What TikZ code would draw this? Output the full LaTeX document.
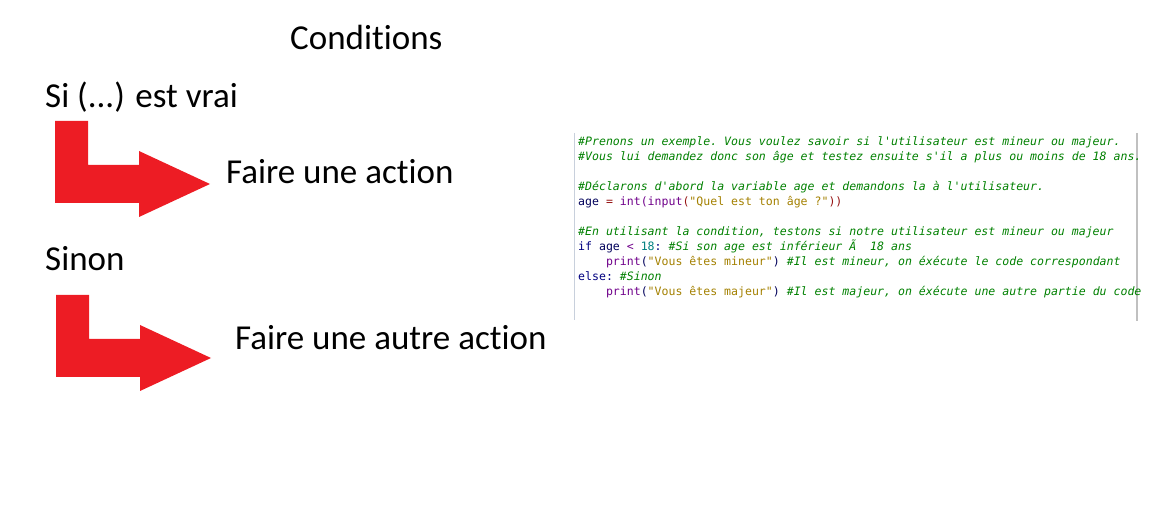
\documentclass[tikz,border=0pt]{standalone}
\usepackage{fontspec}
\setmainfont[Ligatures={NoCommon}]{Carlito}
\setmonofont[ItalicFont={DejaVu Sans Mono Oblique}]{DejaVu Sans Mono}
\definecolor{arrowred}{RGB}{237,28,36}
\definecolor{cmtgreen}{RGB}{0,128,0}
\definecolor{kwnavy}{RGB}{0,0,128}
\definecolor{bipurple}{RGB}{111,0,138}
\definecolor{strolive}{RGB}{163,128,0}
\definecolor{numteal}{RGB}{0,128,128}
\definecolor{opred}{RGB}{150,20,20}
\definecolor{leftgray}{RGB}{200,208,220}
\definecolor{rightgray}{RGB}{192,192,192}
\newcommand{\cmt}[1]{\textcolor{cmtgreen}{\itshape #1}}
\newcommand{\kwd}[1]{\textcolor{kwnavy}{#1}}
\newcommand{\bif}[1]{\textcolor{bipurple}{#1}}
\newcommand{\strg}[1]{\textcolor{strolive}{#1}}
\newcommand{\numb}[1]{\textcolor{numteal}{#1}}
\newcommand{\opr}[1]{\textcolor{opred}{#1}}
\newcommand{\ind}{\hphantom{xxxx}}
\tikzset{
  lbl/.style={anchor=base west, inner sep=0pt, font=\fontsize{35bp}{41bp}\selectfont},
  codeline/.style={anchor=base west, inner sep=0pt, font=\fontsize{11.55bp}{15bp}\selectfont\ttfamily\frenchspacing, text=kwnavy!70!black},
  redarrow/.style={fill=arrowred, draw=none},
  border/.style={line width=1.5bp}
}
\begin{document}
\begin{tikzpicture}[x=1bp,y=-1bp]
\useasboundingbox (0,0) rectangle (1155,510);
% code box borders (behind the text)
\coordinate (lt) at (574.5,133);
\coordinate (lb) at (574.5,320);
\coordinate (rt) at (1137,133);
\coordinate (rb) at (1137,321);
\draw[border, leftgray] (lt) -- (lb);
\draw[border, rightgray] (rt) -- (rb);
% labels
\node[lbl] (title) at (290,50) {Conditions};
\node[lbl] (si) at (45,108) {Si (...) est vrai};
\node[lbl] (act1) at (226,184) {Faire une action};
\node[lbl] (sinon) at (45,271) {Sinon};
\node[lbl] (act2) at (235,350) {Faire une autre action};
% arrows
\fill[redarrow] (55,121) -- (88,121) -- (88,165) -- (139,165) -- (139,151) -- (210,184) -- (139,217) -- (139,203) -- (55,203) -- cycle;
\fill[redarrow] (56,295) -- (89,295) -- (89,339) -- (140,339) -- (140,325) -- (211,358) -- (140,391) -- (140,377) -- (56,377) -- cycle;
% code
\node[codeline] (c0) at (578,146) {\cmt{\#Prenons un exemple. Vous voulez savoir si l'utilisateur est mineur ou majeur.}};
\node[codeline] (c1) at (578,161) {\cmt{\#Vous lui demandez donc son âge et testez ensuite s'il a plus ou moins de 18 ans.}};
\node[codeline] (c3) at (578,191) {\cmt{\#Déclarons d'abord la variable age et demandons la à l'utilisateur.}};
\node[codeline] (c4) at (578,206) {age \opr{=} \bif{int(input}\opr{(}\strg{"Quel est ton âge ?"}\opr{))}};
\node[codeline] (c6) at (578,236) {\cmt{\#En utilisant la condition, testons si notre utilisateur est mineur ou majeur}};
\node[codeline] (c7) at (578,251) {\kwd{if} age \bif{<} \numb{18}\kwd{:} \cmt{\#Si son age est inférieur Ã~ 18 ans}};
\node[codeline] (c8) at (578,266) {\ind\bif{print}(\strg{"Vous êtes mineur"}) \cmt{\#Il est mineur, on éxécute le code correspondant}};
\node[codeline] (c9) at (578,281) {\kwd{else:} \cmt{\#Sinon}};
\node[codeline] (c10) at (578,296) {\ind\bif{print}(\strg{"Vous êtes majeur"}) \cmt{\#Il est majeur, on éxécute une autre partie du code}};
\end{tikzpicture}
\end{document}
